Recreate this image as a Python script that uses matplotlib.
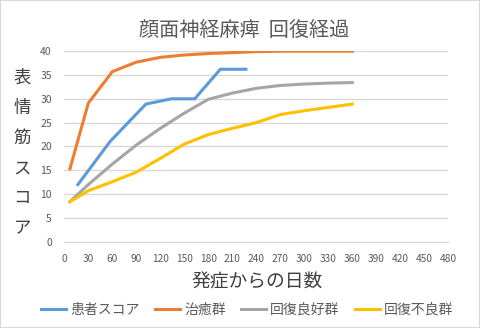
import matplotlib
matplotlib.use("Agg")
import matplotlib.pyplot as plt
from matplotlib.patches import Rectangle

plt.rcParams['font.family'] = ['Noto Sans CJK JP', 'DejaVu Sans']

# 患者スコア
patient_days = [17, 57, 102, 134, 163, 195, 227]
patient_score = [12, 21, 28.9, 30, 30, 36.2, 36.2]

# 各群の経過 (日数共通)
group_days = [7, 30, 60, 90, 120, 150, 180, 210, 240, 270, 300, 330, 360]
cured = [15.3, 29.1, 35.7, 37.7, 38.7, 39.2, 39.5, 39.7, 39.9, 40, 40, 40, 40]
good = [8.4, 12.0, 16.3, 20.3, 23.8, 27.0, 29.9, 31.2, 32.2, 32.8, 33.1, 33.3, 33.4]
poor = [8.4, 10.7, 12.6, 14.6, 17.5, 20.5, 22.5, 23.8, 25.0, 26.7, 27.5, 28.2, 28.9]

x_ticks = list(range(0, 481, 30))
y_ticks = list(range(0, 41, 5))

txt = '#595959'

fig = plt.figure(figsize=(4.8, 3.28), dpi=100)
fig.patches.append(Rectangle((0, 0), 1, 1, transform=fig.transFigure,
                             fill=False, edgecolor='#d9d9d9', lw=1.5))
ax = fig.add_axes([0.134, 0.263, 0.800, 0.581])

ax.plot(patient_days, patient_score, color='#5B9BD5', lw=2.2, label='患者スコア')
ax.plot(group_days, cured, color='#ED7D31', lw=2.2, label='治癒群')
ax.plot(group_days, good, color='#A5A5A5', lw=2.2, label='回復良好群')
ax.plot(group_days, poor, color='#FFC000', lw=2.2, label='回復不良群')

ax.set_xlim(0, 480)
ax.set_ylim(0, 40)
ax.set_xticks(x_ticks)
ax.set_yticks(y_ticks)
ax.tick_params(length=0, labelsize=7.5, labelcolor=txt)
ax.tick_params(axis='x', pad=9, labelsize=7.3)
ax.tick_params(axis='y', pad=9)
ax.grid(axis='y', color='#d9d9d9', lw=1)
ax.set_axisbelow(True)
for s in ['top', 'right', 'left']:
    ax.spines[s].set_visible(False)
ax.spines['bottom'].set_color('#d9d9d9')

fig.text(0.508, 0.908, '顔面神経麻痺  回復経過', ha='center', va='center',
         fontsize=14.5, color=txt)
fig.text(0.535, 0.140, '発症からの日数', ha='center', va='center',
         fontsize=13.5, color='#404040')
fig.text(0.046, 0.533, '\n'.join('表情筋スコア'), ha='center', va='center',
         fontsize=12.5, color='#404040', linespacing=1.86)

fig.legend(loc='center', bbox_to_anchor=(0.515, 0.055), ncol=4, frameon=False,
           fontsize=10, labelcolor=txt, handlelength=1.8, columnspacing=1.1,
           handletextpad=0.3)

fig.savefig('out.png', dpi=100)
